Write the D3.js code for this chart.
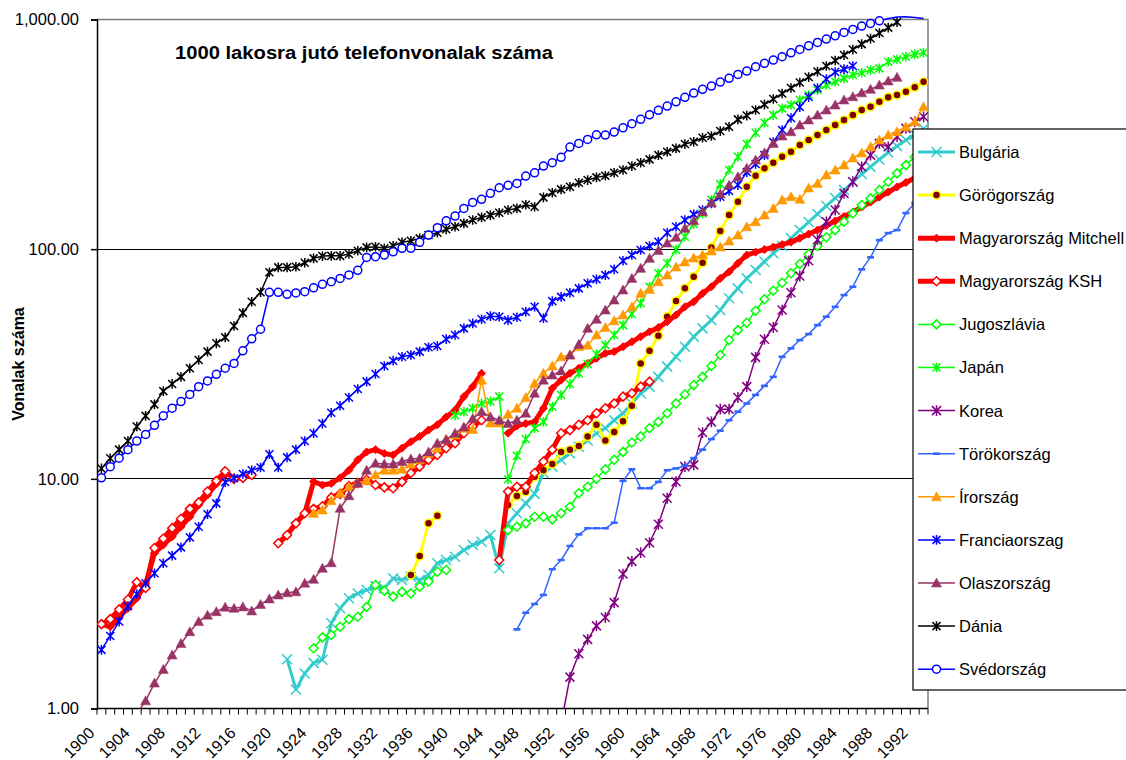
<!DOCTYPE html>
<html><head><meta charset="utf-8">
<script src="https://cdn.jsdelivr.net/npm/d3@7"></script>
<style>
body{margin:0;background:#fff;}
svg{display:block;font-family:"Liberation Sans",Arial,sans-serif;}
</style></head><body>
<svg id="c" width="1126" height="760"></svg>
<script>
// ---------------- DATA ----------------
const categories = d3.range(1900, 1994);           // 1900 ... 1993
const xLabelYears = [1900,1904,1908,1912,1916,1920,1924,1928,1932,1936,1940,1944,1948,1952,1956,1960,1964,1968,1972,1976,1980,1984,1988,1992];
const yTickValues = [1, 10, 100, 1000];
const yTickLabels = ["1.00", "10.00", "100.00", "1,000.00"];
const chartTitle = "1000 lakosra jutó telefonvonalak száma";
const yTitle = "Vonalak száma";

const bulgariaStart = 1921;
const bulgaria = [1.64,1.21,1.42,1.58,1.63,2.35,2.73,3.02,3.17,3.28,3.41,3.34,3.69,3.63,3.75,3.63,3.81,4.29,4.43,4.58,4.90,5.15,5.32,5.69,4.08,6.40,7.08,7.82,8.6,10.6,11.3,12.1,12.9,13.8,14.7,15.8,16.6,18.0,19.3,21.3,23.6,25.2,27.8,30.8,34.0,37.6,41.6,45.2,49.1,54.3,61.1,67.5,74.6,81.1,88.2,95.9,103.2,111.7,121.1,131.3,142.3,154.2,167.0,180.9,196.0,212.3,228.2,245.8,263.7,280.9,298.5,314.8,335];

const gorogStart = 1935;
const gorog = [3.81,4.61,6.40,6.91,null,null,null,null,null,null,null,7.69,8.42,8.79,10.2,10.9,11.6,13.1,13.4,13.9,15.3,17.2,14.7,16.0,17.8,20.8,31.8,36.1,42.0,50.8,59.4,67.5,75.8,87.3,101.8,119.9,140.7,160.8,187.0,208.7,224.8,237.8,252.6,265.5,283.9,298.5,313.9,330.0,347.0,364.9,383.5,403.3,416.9,438.3,458.1,468.8,484.6,506.4,535.7];

const mitchellStart = 1900;
const mitchell = [2.33,2.27,2.51,2.73,3.02,3.48,4.74,5.15,5.60,6.19,6.83,7.69,8.50,9.50,10.4,
  null,null,null,null,null,
  5.24,5.69,6.40,7.08,9.73,9.40,9.55,10.1,10.9,12.1,13.1,13.4,12.9,12.7,13.6,14.5,15.3,16.3,17.2,18.6,19.9,22.8,25.2,28.8,
  null,null,
  15.8,17.0,17.4,17.7,20.3,24.8,26.9,28.8,30.3,31.8,33.5,35.2,35.8,37.6,39.5,41.6,43.7,45.6,48.3,51.7,56.1,59.0,64.2,68.6,74.6,79.7,86.8,
  94.3,97.1,99.6,102.1,104.7,107.3,111.7,116.3,121.1,126.7,132.6,138.7,145.1,152.5,160.3,168.6,177.3,186.4,195.0,204.0,212.3];

const kshStart = 1900;
const ksh = [2.33,2.45,2.70,2.98,3.55,3.35,5.0,5.5,6.1,6.7,7.4,7.9,8.8,9.8,10.8,10.0,10.1,10.4,
  null,null,
  5.24,5.69,6.40,7.08,7.4,7.6,8.3,8.6,9.3,9.6,9.9,9.4,9.18,9.1,9.7,10.6,11.3,12.1,12.7,13.6,14.3,15.8,16.9,18.0,
  null,
  4.43,8.8,9.24,9.24,10.6,11.9,13.4,15.8,16.3,17.2,18.0,19.3,20.3,21.3,22.8,23.6,25.2,26.5];

const jugoStart = 1924;
const jugo = [1.83,2.04,2.09,2.27,2.45,2.51,2.77,3.45,3.26,3.07,3.22,3.17,3.39,3.57,3.94,4.01,
  null,null,null,null,null,null,
  5.98,6.19,6.40,6.84,6.84,6.66,7.08,7.56,8.65,9.24,10.0,11.0,12.1,13.1,14.4,15.3,16.6,17.7,19.3,21.3,23.3,25.6,27.8,31.0,34.6,40.2,44.4,47.8,53.9,60.5,65.9,71.4,78.5,86.1,95.2,103.2,112.6,121.1,131.6,143.2,155.6,166.4,180.9,196.6,213.8,232.3,251.8,272.8];

const japanStart = 1940;
const japan = [18.9,19.6,20.3,21.3,21.7,22.8,9.95,12.6,14.9,16.6,17.7,20.6,23.2,25.9,28.8,31.6,34.9,38.2,42.3,46.7,52.2,58.1,68.6,78.5,86.8,99.5,113.2,128.6,143.2,163.6,192.0,221.0,252.6,286.8,321.3,355.1,383.5,410.2,424.1,445.9,468.8,492.9,518.2,535.7,554.2,572.9,586.1,602.2,612.6,654.6,670.5,688.3,704.9,716.1];

const koreaStart = 1952;
const korea = [0.86,1.37,1.73,2.00,2.29,2.49,2.89,3.85,4.37,4.77,5.27,6.34,8.23,9.71,11.3,11.5,15.9,17.7,20.1,20.1,22.6,25.2,33.8,40.5,45.6,54.3,64.6,76.4,89.0,110,131.6,148.0,175.0,196.6,228.4,256.8,288.8,279.1,308.6,335.7,358.7,377.0];

const torokStart = 1947;
const torok = [2.21,2.61,2.85,3.12,4.04,4.43,5.10,5.73,6.09,6.09,6.09,6.44,9.8,11.0,9.1,9.1,9.7,10.9,11.1,11.4,12.3,13.4,14.9,16.2,18.0,19.6,21.3,23.2,25.4,27.8,34.0,37.0,40.2,42.7,46.7,50.8,56.1,63.1,68.6,81.7,92.1,109.5,117.5,121.1,143.6,158.7,172];

const irStart = 1924;
const ir = [7.08,7.31,8.03,8.65,9.24,9.59,9.81,10.4,10.9,10.9,11.0,11.6,12.1,12.9,13.6,14.9,15.5,16.6,16.4,26.9,17.5,17.5,19.1,20.3,22.6,26.0,28.8,31.0,34.0,34.6,37.6,38.2,42.3,45.6,48.8,51.7,56.1,64.2,66.8,72.1,77.1,83.6,87.9,91.5,94.3,98.1,102.1,108.5,115.2,125.2,131.6,140.7,150.5,163.6,169.1,164.8,184.5,193.4,210.6,221.0,232.3,249.4,262.2,279.1,298.5,313.9,324.5,341.2,358.7,416.9];

const franciaStart = 1900;
const francia = [1.80,2.07,2.39,2.79,3.15,3.51,3.88,4.29,4.63,5.03,5.56,6.19,7.01,7.82,9.68,10.05,10.5,10.9,11.2,12.8,11.2,12.4,13.4,14.6,15.8,17.4,19.4,20.8,22.6,24.6,26.5,28.6,31.0,32.7,34.0,34.6,35.8,37.4,37.9,40.6,42.3,45.2,47.5,49.5,51.1,50.8,49.1,50.5,53.4,56.1,50.0,59.4,62.0,64.6,67.5,71.0,73.9,77.1,81.7,89.0,94.3,99.1,103.2,107.7,117.9,125.2,133.9,141.7,148.0,158.2,169.1,179.1,190.1,216.6,234.7,256.8,292.7,330.0,372.3,415.6,459.4,502.9,550.4,590.2,608.1,627.0];

const olaszStart = 1904;
const olasz = [0.95,1.08,1.29,1.48,1.71,1.92,2.16,2.39,2.55,2.64,2.76,2.73,2.77,2.66,2.84,3.00,3.12,3.19,3.22,3.51,3.65,4.08,4.31,7.44,8.44,9.56,10.9,11.7,11.6,11.6,11.9,12.2,12.3,13.1,14.3,14.8,15.8,16.8,18.3,19.6,18.6,18.0,17.4,18.0,19.3,23.6,26.9,28.3,29.5,34.6,38.5,45.2,49.5,54.3,60.0,66.4,74.6,82.5,91.2,98.7,106.3,112.6,123.2,132.9,145.5,159.2,173.8,190.1,206.7,224.8,244.3,262.8,288.8,310.8,324.5,347.0,364.9,383.5,403.3,424.1,445.9,460.8,479.6,496.4,518.2,539.5,559.8];

const daniaStart = 1900;
const dania = [11.1,12.3,13.4,14.6,16.9,18.8,21.1,24.1,25.9,27.8,30.3,32.9,35.8,38.9,41.3,46.3,52.8,59.0,64.9,79.3,83.3,83.3,83.8,87.3,91.2,93.3,93.5,93.5,95.2,98.4,101.8,102.4,100.8,103.5,107.1,108.8,111.4,115.2,117.9,122.0,125.2,129.5,133.9,137.5,140.7,144.0,148.0,150.5,156.1,152.9,168.1,176.0,182.1,187.0,194.6,199.9,205.4,208.7,215.1,221.0,230.0,237.8,246.0,256.8,265.5,274.7,286.8,293.5,305.5,310.8,326.7,341.2,367.4,381.6,403.3,426.1,450.4,475.9,502.9,531.4,561.4,593.2,627.0,662.5,700.0,739.6,781.4,825.8,872.6,922.0,974.3];

const svedStart = 1900;
const sved = [10.1,11.3,12.3,13.4,14.6,15.6,17.1,18.8,20.3,21.7,23.3,25.2,26.7,28.5,30.3,31.8,36.1,40.7,44.8,64.9,64.9,63.6,64.5,65.3,67.9,70.3,72.2,74.6,77.2,80.9,92.1,92.7,94.3,97.4,100.8,100.8,107.1,115.2,124.0,132.9,139.4,150.5,159.8,164.8,175.0,185.1,189.6,193.4,208.1,215.1,230.0,237.8,251.0,278.3,288.8,300.6,314.8,313.9,323.5,337.7,351.6,367.4,384.7,402.1,419.8,438.3,458.1,478.3,496.4,513.1,534.1,554.2,576.8,596.3,622.6,644.2,665.9,688.3,716.1,741.1,768.2,794.9,821.7,849.2,878.8,905.5,936.0,961.7,987.2,1010,1025,1028,1020,1010];

// ---------------- SERIES STYLES ----------------
const series = [
  {name:"Bulgária", start:bulgariaStart, values:bulgaria, color:"#33CCCC", lw:3, marker:"x", ms:5, mfill:"none", mstroke:"#33CCCC", msw:1.5},
  {name:"Görögország", start:gorogStart, values:gorog, color:"#FFFF00", lw:3, marker:"circle", ms:4, mfill:"#800000", mstroke:"#FFFF00", msw:1.5},
  {name:"Magyarország Mitchell", start:mitchellStart, values:mitchell, color:"#FF0000", lw:5, marker:"diamond", ms:4, mfill:"#FF0000", mstroke:"#FF0000", msw:1},
  {name:"Magyarország KSH", start:kshStart, values:ksh, color:"#FF0000", lw:5, marker:"diamond", ms:4.5, mfill:"#FFFFFF", mstroke:"#FF0000", msw:1.5},
  {name:"Jugoszlávia", start:jugoStart, values:jugo, color:"#00FF00", lw:1.5, marker:"diamond", ms:4.5, mfill:"#FFFFFF", mstroke:"#00FF00", msw:1.5},
  {name:"Japán", start:japanStart, values:japan, color:"#00FF00", lw:1.5, marker:"star", ms:4, mfill:"none", mstroke:"#00FF00", msw:1.5},
  {name:"Korea", start:koreaStart, values:korea, color:"#800080", lw:1.5, marker:"star", ms:4.5, mfill:"none", mstroke:"#800080", msw:1.5},
  {name:"Törökország", start:torokStart, values:torok, color:"#3366FF", lw:1.5, marker:"dash", ms:3.5, mfill:"#3366FF", mstroke:"#3366FF", msw:0},
  {name:"Írország", start:irStart, values:ir, color:"#FF9900", lw:1.5, marker:"triangle", ms:5, mfill:"#FF9900", mstroke:"#FF9900", msw:0.5},
  {name:"Franciaorszag", start:franciaStart, values:francia, color:"#0000FF", lw:1.5, marker:"star", ms:4, mfill:"none", mstroke:"#0000FF", msw:1.5},
  {name:"Olaszország", start:olaszStart, values:olasz, color:"#993366", lw:1.5, marker:"triangle", ms:5, mfill:"#993366", mstroke:"#993366", msw:0.5},
  {name:"Dánia", start:daniaStart, values:dania, color:"#000000", lw:1.5, marker:"star", ms:4, mfill:"none", mstroke:"#000000", msw:1.5},
  {name:"Svédország", start:svedStart, values:sved, color:"#0000FF", lw:1.5, marker:"circle", ms:4, mfill:"#FFFFFF", mstroke:"#0000FF", msw:1.5}
];

// ---------------- LAYOUT ----------------
const plot = {left:97, right:928, top:19.5, bottom:708.5};
const svg = d3.select("#c");
svg.append("rect").attr("width",1126).attr("height",760).attr("fill","#fff");

const x = d3.scalePoint().domain(categories).range([plot.left, plot.right]).padding(0.5);
const y = d3.scaleLog().domain([1,1000]).range([plot.bottom, plot.top]);

// gridlines
svg.append("g").selectAll("line").data([10,100]).join("line")
  .attr("x1",plot.left).attr("x2",plot.right)
  .attr("y1",d=>y(d)).attr("y2",d=>y(d))
  .attr("stroke","#000").attr("stroke-width",1).attr("shape-rendering","crispEdges");
// plot top/right border
svg.append("path").attr("d",`M${plot.left},${y(1000)}H${plot.right}V${plot.bottom}`)
  .attr("fill","none").attr("stroke","#808080").attr("stroke-width",1.5);

// y axis
const yAxis = d3.axisLeft(y).tickValues(yTickValues).tickFormat(d=>yTickLabels[yTickValues.indexOf(d)]).tickSize(6).tickPadding(12);
const gy = svg.append("g").attr("transform",`translate(${plot.left},0)`).call(yAxis);
gy.select(".domain").attr("stroke","#000").attr("stroke-width",1.5);
gy.selectAll(".tick line").attr("stroke","#000").attr("stroke-width",1.5);
gy.selectAll(".tick text").attr("font-size","16.5px").attr("fill","#000").attr("font-family","Liberation Sans, Arial, sans-serif");

// x axis line + boundary ticks
const step = x.step();
const boundaries = d3.range(categories.length+1).map(i => plot.left + i*step);
svg.append("line").attr("x1",plot.left).attr("x2",plot.right).attr("y1",plot.bottom).attr("y2",plot.bottom)
  .attr("stroke","#000").attr("stroke-width",1.5);
svg.append("g").selectAll("line").data(boundaries).join("line")
  .attr("x1",d=>d).attr("x2",d=>d).attr("y1",plot.bottom).attr("y2",plot.bottom+6)
  .attr("stroke","#000").attr("stroke-width",1);
svg.append("g").selectAll("text").data(xLabelYears).join("text")
  .attr("transform",d=>`translate(${x(d)-6},${734}) rotate(-45)`)
  .attr("text-anchor","end").attr("font-size","16px").attr("fill","#000")
  .text(d=>d);

// titles
svg.append("text").attr("x",175).attr("y",59).attr("font-size","18px").attr("font-weight","bold")
  .attr("textLength",378).attr("lengthAdjust","spacingAndGlyphs").text(chartTitle);
svg.append("text").attr("transform",`translate(24,364) rotate(-90)`).attr("text-anchor","middle")
  .attr("font-size","16px").attr("font-weight","bold").text(yTitle);

// clip
svg.append("defs").append("clipPath").attr("id","clip").append("rect")
  .attr("x",plot.left).attr("y",0).attr("width",plot.right-plot.left+4).attr("height",plot.bottom);

function markerPath(type, s){
  switch(type){
    case "x": return `M${-s},${-s}L${s},${s}M${-s},${s}L${s},${-s}`;
    case "star": return `M${-s},${-s}L${s},${s}M${-s},${s}L${s},${-s}M0,${-s*1.2}L0,${s*1.2}`;
    case "diamond": return `M0,${-s}L${s},0L0,${s}L${-s},0Z`;
    case "triangle": return `M0,${-s}L${s},${s*0.8}L${-s},${s*0.8}Z`;
    case "dash": return `M${-s},-1.3H${s}V1.3H${-s}Z`;
    case "circle": return d3.arc()({innerRadius:0,outerRadius:s,startAngle:0,endAngle:2*Math.PI});
  }
}

const line = d3.line().defined(d=>d.v!=null).x(d=>x(d.year)).y(d=>y(d.v));
const gSeries = svg.append("g").attr("clip-path","url(#clip)");
series.forEach(s=>{
  const data = s.values.map((v,i)=>({year:s.start+i, v}));
  const g = gSeries.append("g");
  g.append("path").datum(data).attr("d",line).attr("fill","none")
    .attr("stroke",s.color).attr("stroke-width",s.lw).attr("stroke-linejoin","round");
  g.selectAll("path.m").data(data.filter(d=>d.v!=null && d.v>=1 && d.v<=1000)).join("path")
    .attr("class","m").attr("transform",d=>`translate(${x(d.year)},${y(d.v)})`)
    .attr("d",markerPath(s.marker,s.ms)).attr("fill",s.mfill)
    .attr("stroke",s.mstroke).attr("stroke-width",s.msw);
});

// legend
const lg = svg.append("g");
lg.append("rect").attr("x",913).attr("y",129).attr("width",230).attr("height",561)
  .attr("fill","#fff").attr("stroke","#000").attr("stroke-width",1.2);
series.forEach((s,i)=>{
  const cy = 152 + i*43.1;
  lg.append("line").attr("x1",918).attr("x2",955).attr("y1",cy).attr("y2",cy)
    .attr("stroke",s.color).attr("stroke-width",s.lw);
  lg.append("path").attr("transform",`translate(936.5,${cy})`).attr("d",markerPath(s.marker,s.ms))
    .attr("fill",s.mfill).attr("stroke",s.mstroke).attr("stroke-width",s.msw);
  lg.append("text").attr("x",959).attr("y",cy).attr("dy","0.36em").attr("font-size","16.5px").text(s.name);
});
</script>
</body></html>
